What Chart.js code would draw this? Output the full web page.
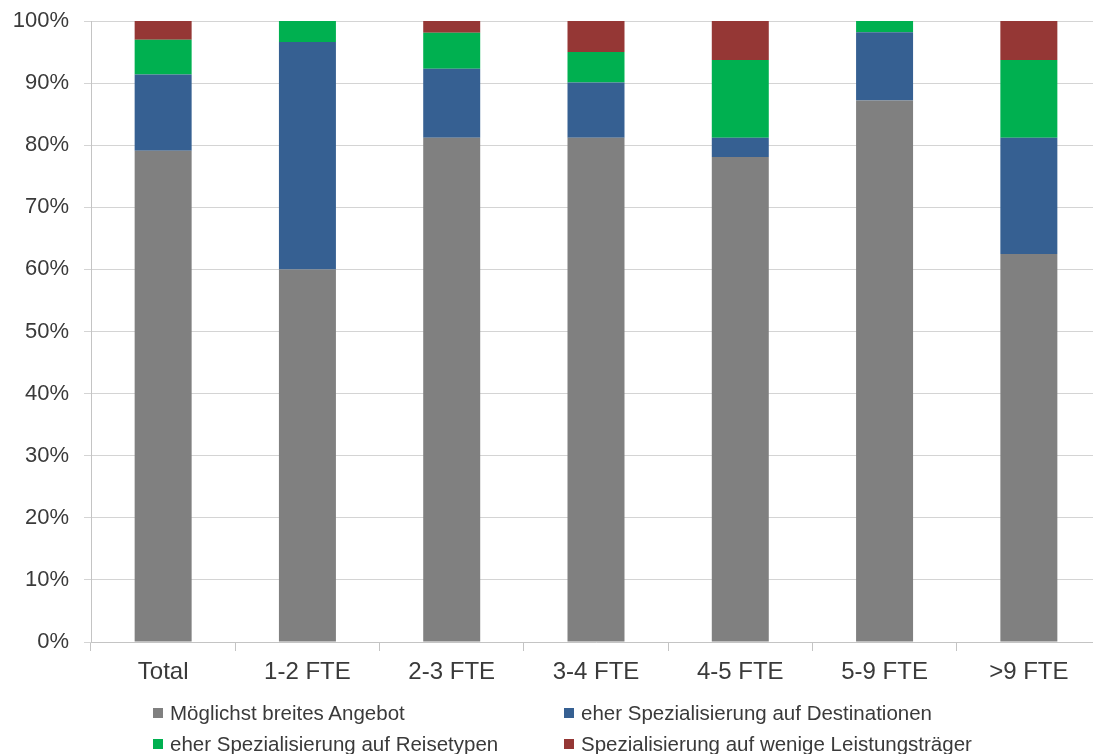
<!DOCTYPE html>
<html>
<head>
<meta charset="utf-8">
<script src="https://cdn.jsdelivr.net/npm/chart.js@4/dist/chart.umd.min.js"></script>
<style>
  html, body { margin: 0; padding: 0; background: #fff; overflow: hidden; }
  #wrap { position: relative; width: 1093px; height: 754px; overflow: hidden; }
  #c { position: absolute; left: 0; top: 0; }
  .leg { position: absolute; display: flex; align-items: center; font-family: "Liberation Sans", Arial, sans-serif; font-size: 20.5px; color: #3a3a3a; white-space: nowrap; }
  .leg span.box { display: inline-block; width: 10px; height: 10px; margin-right: 7px; }
</style>
</head>
<body>
<div id="wrap">
  <canvas id="c" width="1112" height="754"></canvas>
</div>
<script>
const categories = ['Total', '1-2 FTE', '2-3 FTE', '3-4 FTE', '4-5 FTE', '5-9 FTE', '>9 FTE'];
const seriesNames = [
  'Möglichst breites Angebot',
  'eher Spezialisierung auf Destinationen',
  'eher Spezialisierung auf Reisetypen',
  'Spezialisierung auf wenige Leistungsträger'
];
const breitesAngebot   = [79.1, 60.0, 81.2, 81.2, 78.1, 87.2, 62.5];
const destinationen    = [12.3, 36.6, 11.1,  8.9,  3.1, 11.0, 18.7];
const reisetypen       = [ 5.6,  3.4,  5.8,  4.9, 12.5,  1.8, 12.5];
const leistungstraeger = [ 3.0,  0.0,  1.9,  5.0,  6.3,  0.0,  6.3];
const seriesColors = ['#808080', '#366092', '#00B050', '#953735'];
const seriesValues = [breitesAngebot, destinationen, reisetypen, leistungstraeger];

const datasets = seriesNames.map((name, i) => ({
  label: name,
  data: seriesValues[i],
  backgroundColor: seriesColors[i],
  borderWidth: 0,
  categoryPercentage: 1.0,
  barPercentage: 0.395
}));

new Chart(document.getElementById('c'), {
  type: 'bar',
  data: { labels: categories, datasets },
  options: {
    responsive: false,
    animation: false,
    devicePixelRatio: 1,
    layout: { padding: { top: 21, right: 11, bottom: 0, left: 0 } },
    plugins: { legend: { display: false }, tooltip: { enabled: false } },
    scales: {
      x: {
        stacked: true,
        offset: true,
        grid: { display: true, drawOnChartArea: false, drawTicks: true, tickLength: 9, color: '#c4c4c4', offset: true },
        border: { display: true, color: '#c4c4c4' },
        ticks: { color: '#3a3a3a', font: { family: 'Liberation Sans', size: 24 }, padding: 7, maxRotation: 0 },
        afterFit: (s) => { s.height = 112; s.paddingLeft = 0; s.paddingRight = 0; }
      },
      y: {
        stacked: true,
        min: 0,
        max: 100,
        grid: { color: '#d4d4d4', tickLength: 7 },
        border: { display: true, color: '#c4c4c4' },
        ticks: { stepSize: 10, color: '#3a3a3a', font: { family: 'Liberation Sans', size: 22 }, padding: 15, callback: (v) => v + '%' },
        afterFit: (s) => { s.width = 91; s.paddingTop = 0; s.paddingBottom = 0; }
      }
    }
  }
});

// legend (2 x 2 grid like the reference)
const wrap = document.getElementById('wrap');
const legPos = [[153, 713], [564, 713], [153, 744], [564, 744]];
seriesNames.forEach((name, i) => {
  const d = document.createElement('div');
  d.className = 'leg';
  d.style.left = legPos[i][0] + 'px';
  d.style.top = (legPos[i][1] - 11) + 'px';
  d.style.height = '22px';
  const b = document.createElement('span');
  b.className = 'box';
  b.style.background = seriesColors[i];
  const t = document.createElement('span');
  t.textContent = name;
  d.appendChild(b);
  d.appendChild(t);
  wrap.appendChild(d);
});
</script>
</body>
</html>
